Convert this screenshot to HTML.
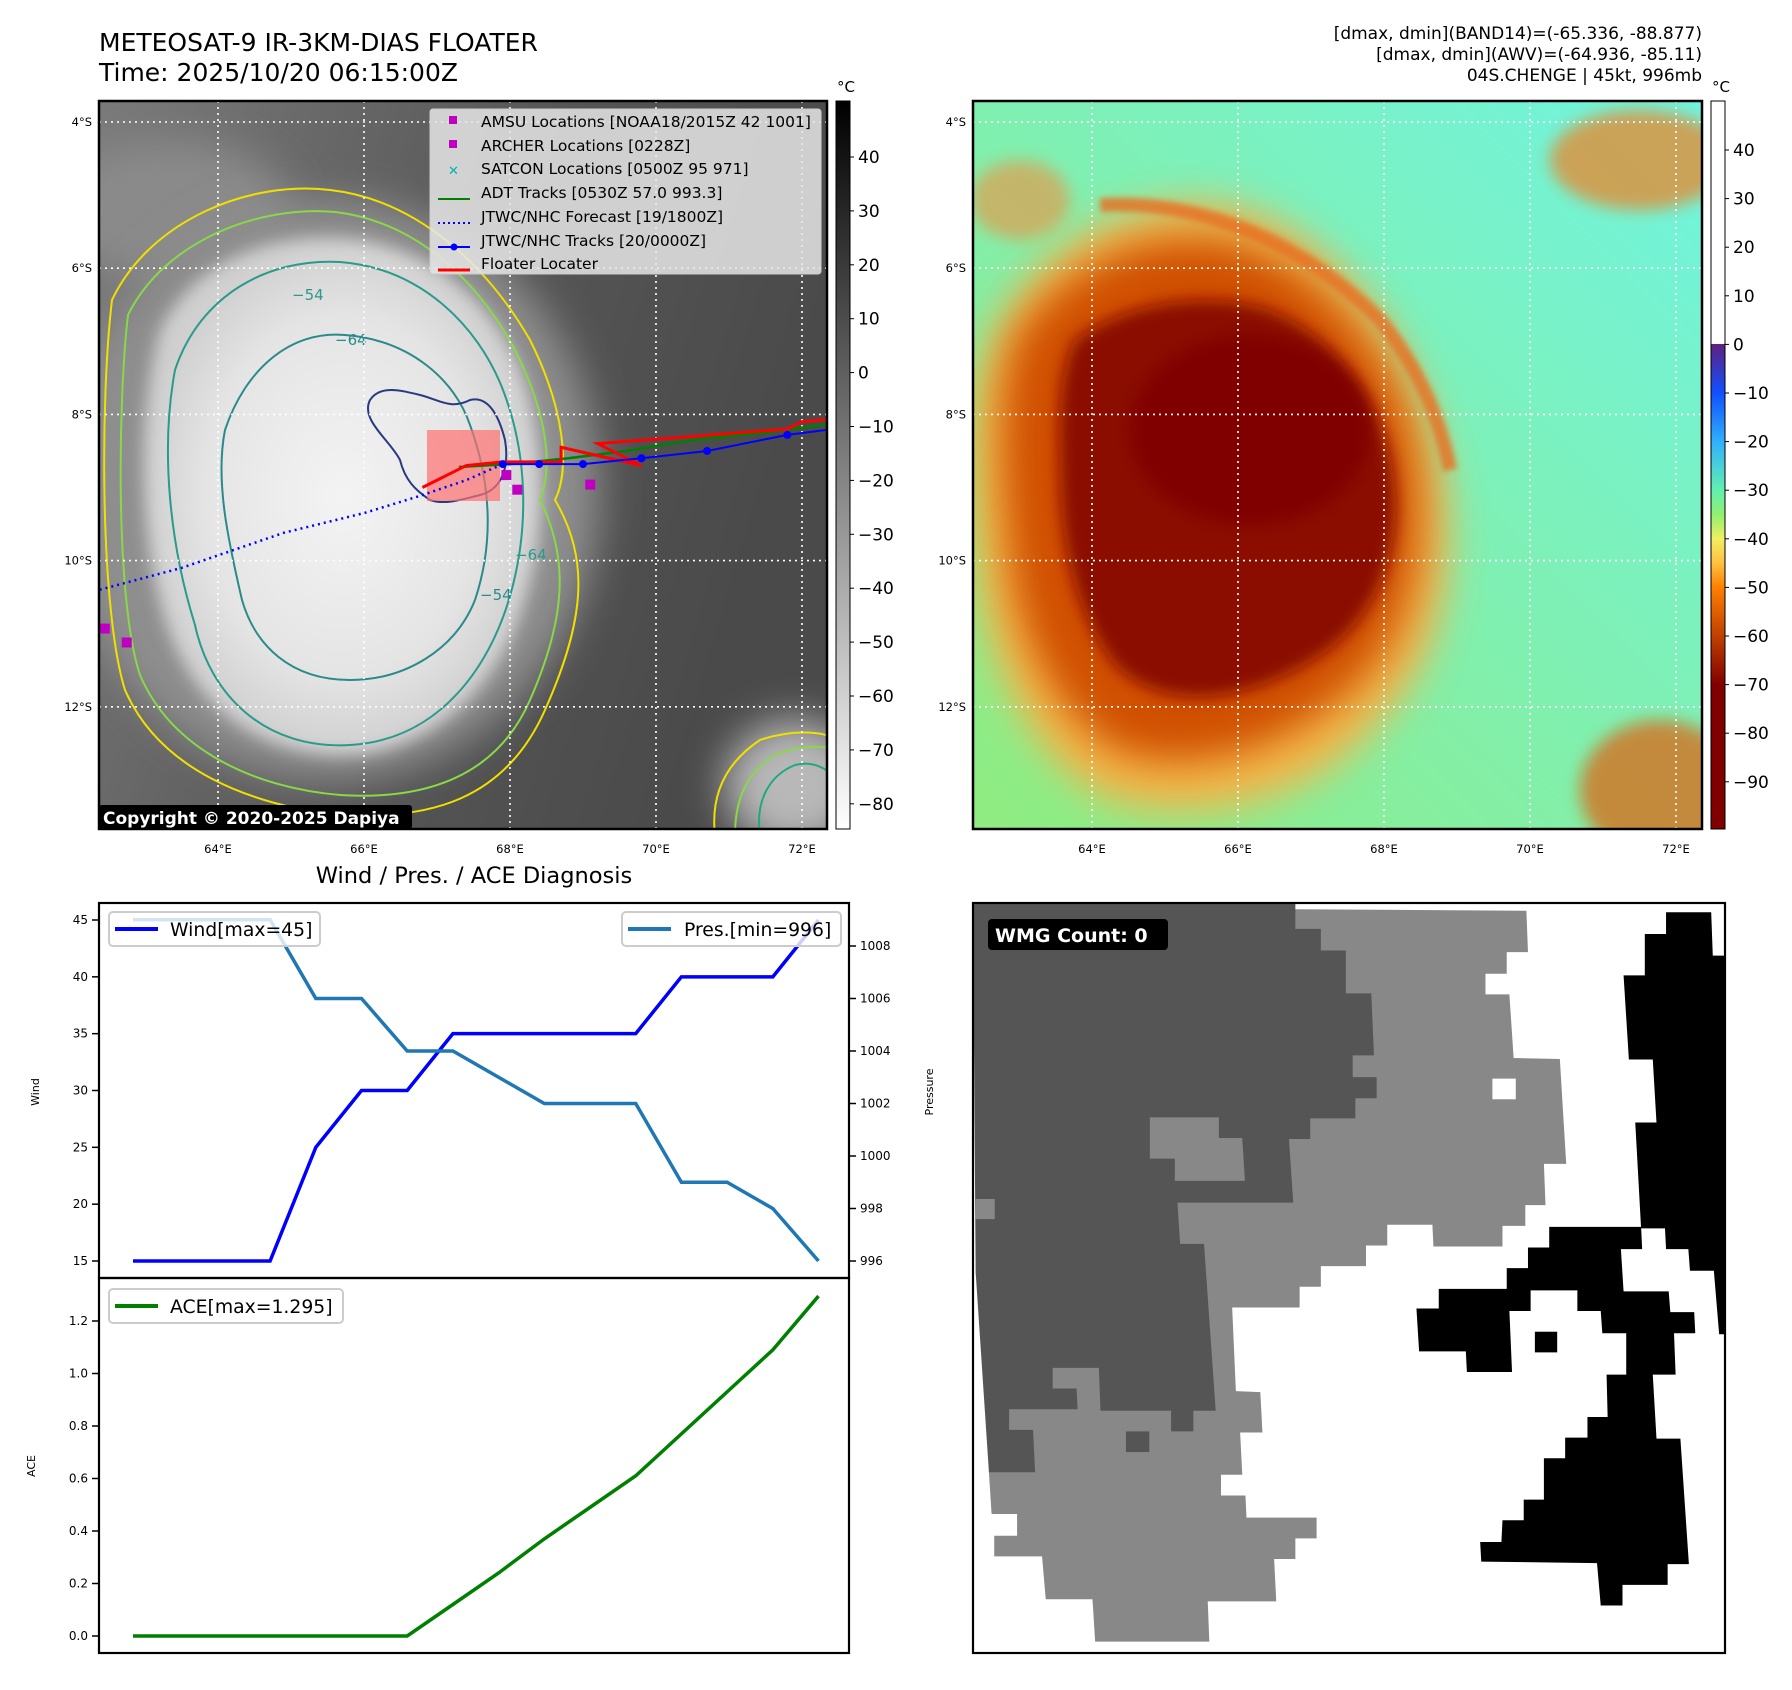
<!DOCTYPE html>
<html><head><meta charset="utf-8">
<style>
html,body{margin:0;padding:0;background:#fff;}
body{width:1792px;height:1690px;position:relative;overflow:hidden;font-family:"Liberation Sans","DejaVu Sans",sans-serif;}
svg{position:absolute;left:0;top:0;}
text{font-family:"DejaVu Sans","Liberation Sans",sans-serif;}
</style></head>
<body>
<svg id="fig" width="1792" height="1690" viewBox="0 0 1792 1690">
<defs>
 <filter id="blur8" x="-50%" y="-50%" width="200%" height="200%"><feGaussianBlur stdDeviation="8"/></filter>
 <filter id="blur20" x="-50%" y="-50%" width="200%" height="200%"><feGaussianBlur stdDeviation="20"/></filter>
 <filter id="blur4" x="-50%" y="-50%" width="200%" height="200%"><feGaussianBlur stdDeviation="3"/></filter>
 <clipPath id="c1"><rect x="99" y="101" width="728" height="728"/></clipPath>
 <clipPath id="c2"><rect x="973" y="101" width="729" height="728"/></clipPath>
 <linearGradient id="gcb" x1="0" y1="1" x2="0" y2="0">
  <stop offset="0" stop-color="#fff"/><stop offset="1" stop-color="#000"/>
 </linearGradient>
 <linearGradient id="ccb" x1="0" y1="1" x2="0" y2="0">
  <stop offset="0" stop-color="#800000"/>
  <stop offset="0.198" stop-color="#800000"/>
  <stop offset="0.265" stop-color="#c04000"/>
  <stop offset="0.332" stop-color="#ff8000"/>
  <stop offset="0.365" stop-color="#ffc040"/>
  <stop offset="0.399" stop-color="#f0f060"/>
  <stop offset="0.432" stop-color="#90f070"/>
  <stop offset="0.466" stop-color="#60f0b0"/>
  <stop offset="0.532" stop-color="#30b0ff"/>
  <stop offset="0.599" stop-color="#1050ff"/>
  <stop offset="0.666" stop-color="#602080"/>
  <stop offset="0.666" stop-color="#ffffff"/>
  <stop offset="1" stop-color="#ffffff"/>
 </linearGradient>
 <radialGradient id="wblob" cx="0.5" cy="0.5" r="0.5">
  <stop offset="0" stop-color="#f4f4f4"/><stop offset="0.7" stop-color="#e4e4e4"/><stop offset="1" stop-color="#cfcfcf"/>
 </radialGradient>
 <linearGradient id="bg1" x1="0" y1="0" x2="1" y2="0.3">
  <stop offset="0" stop-color="#7a7a7a"/><stop offset="0.6" stop-color="#555"/><stop offset="1" stop-color="#4a4a4a"/>
 </linearGradient>
 <linearGradient id="bg2" x1="0" y1="1" x2="1" y2="0">
  <stop offset="0" stop-color="#90ec80"/><stop offset="0.5" stop-color="#80f0b0"/><stop offset="1" stop-color="#70f4e0"/>
 </linearGradient>
</defs>

<text x="99" y="51" font-size="25">METEOSAT-9 IR-3KM-DIAS FLOATER</text>
<text x="99" y="81" font-size="25">Time: 2025/10/20 06:15:00Z</text>
<text x="1702" y="39" font-size="17" text-anchor="end">[dmax, dmin](BAND14)=(-65.336, -88.877)</text>
<text x="1702" y="60" font-size="17" text-anchor="end">[dmax, dmin](AWV)=(-64.936, -85.11)</text>
<text x="1702" y="81" font-size="17" text-anchor="end">04S.CHENGE | 45kt, 996mb</text>

<!-- MAP 1 -->
<g clip-path="url(#c1)">
 <rect x="99" y="101" width="728" height="728" fill="url(#bg1)"/>
 <ellipse cx="170" cy="210" rx="120" ry="70" fill="#8a8a8a" filter="url(#blur20)"/>
 <ellipse cx="795" cy="785" rx="70" ry="65" fill="#b8b8b8" filter="url(#blur20)"/>
 <ellipse cx="330" cy="490" rx="270" ry="290" fill="#8e8e8e" filter="url(#blur20)"/>
 <path d="M160,330 C200,250 290,230 360,240 C450,255 510,320 530,400 C550,480 545,560 510,640 C470,720 400,760 330,755 C250,750 190,700 165,620 C140,540 135,420 160,330 Z" fill="url(#wblob)" filter="url(#blur8)"/>
 <g fill="none" stroke-width="2">
  <path d="M112,300 C150,220 250,180 330,190 C420,200 490,270 530,340 C565,410 570,470 555,500 C590,560 585,620 545,710 C505,800 430,820 340,815 C250,805 160,770 125,690 C100,610 100,400 112,300 Z" stroke="#f0e000"/>
  <path d="M128,315 C165,240 260,205 335,212 C420,222 480,285 515,350 C550,420 552,470 540,500 C570,560 565,620 530,700 C495,780 420,800 340,795 C255,788 172,750 140,675 C115,600 118,400 128,315 Z" stroke="#88d848"/>
  <path d="M175,370 C200,295 268,258 340,262 C420,268 478,325 503,390 C528,455 528,525 513,585 C493,665 440,740 350,745 C265,750 210,695 195,625 C170,545 160,450 175,370 Z" stroke="#2a9a8a"/>
  <path d="M225,430 C245,370 290,330 345,335 C410,340 455,380 470,425 C490,480 495,540 475,600 C455,650 405,680 350,680 C290,680 255,645 242,600 C228,540 215,480 225,430 Z" stroke="#2a8a8a"/>
  <path d="M370,400 C380,385 400,390 420,395 C440,400 450,410 470,400 C490,395 500,420 505,440 C510,470 500,490 480,495 C460,500 445,505 430,500 C415,490 405,480 400,460 C390,440 360,420 370,400 Z" stroke="#2a3a80"/>
  <path d="M715,835 C710,790 730,760 760,740 C790,730 820,730 840,740" stroke="#f0e000"/>
  <path d="M735,835 C735,795 750,770 775,755 C800,745 820,745 840,750" stroke="#88d848"/>
  <path d="M760,835 C755,800 770,775 795,765 C815,760 825,770 835,775" stroke="#20a880"/>
 </g>
 <text x="292" y="300" font-size="15" fill="#2a9a8a">−54</text>
 <text x="335" y="345" font-size="15" fill="#2a8a8a">−64</text>
 <text x="480" y="600" font-size="15" fill="#2a8a8a">−54</text>
 <text x="515" y="560" font-size="15" fill="#2a9a8a">−64</text>
 <g id="grid1" stroke="#fff" stroke-width="1.6" stroke-dasharray="2,4"></g>
 <rect x="430" y="109" width="391" height="165" rx="3" fill="#e6e6e6" fill-opacity="0.85" stroke="#ccc"/>
 <rect x="427" y="430" width="73" height="71" fill="#ff7070" fill-opacity="0.7"/>
 <g id="tracks1"></g>
 <rect x="99" y="805" width="313" height="24" rx="3" fill="#000"/>
 <text x="103" y="824" font-size="17" font-weight="bold" fill="#fff">Copyright © 2020-2025 Dapiya</text>
</g>
<rect x="99" y="101" width="728" height="728" fill="none" stroke="#000" stroke-width="2.5"/>
<g font-size="15.5">
 <rect x="449" y="116" width="8" height="8" fill="#c000c0"/><text x="481" y="127">AMSU Locations [NOAA18/2015Z 42 1001]</text>
 <rect x="449" y="140" width="8" height="8" fill="#c000c0"/><text x="481" y="151">ARCHER Locations [0228Z]</text>
 <text x="448" y="175" fill="#00b0b0" font-size="13" font-weight="bold">✕</text><text x="481" y="174">SATCON Locations [0500Z 95 971]</text>
 <line x1="438" y1="199" x2="470" y2="199" stroke="#008000" stroke-width="2"/><text x="481" y="198">ADT Tracks [0530Z 57.0 993.3]</text>
 <line x1="438" y1="223" x2="470" y2="223" stroke="#0000ff" stroke-width="2" stroke-dasharray="2,3"/><text x="481" y="222">JTWC/NHC Forecast [19/1800Z]</text>
 <line x1="438" y1="247" x2="470" y2="247" stroke="#0000ff" stroke-width="2"/><circle cx="454" cy="247" r="3.5" fill="#0000ff"/><text x="481" y="246">JTWC/NHC Tracks [20/0000Z]</text>
 <line x1="438" y1="270" x2="470" y2="270" stroke="#ff0000" stroke-width="3"/><text x="481" y="269">Floater Locater</text>
</g>
<g id="axes1" font-size="11.5"></g>
<rect x="836" y="101" width="14" height="728" fill="url(#gcb)" stroke="#000" stroke-width="1"/>
<text x="846" y="92" font-size="15" text-anchor="middle">°C</text>
<g id="cb1" font-size="17"></g>

<!-- MAP 2 -->
<g clip-path="url(#c2)">
 <rect x="973" y="101" width="729" height="728" fill="url(#bg2)"/>
 <ellipse cx="1640" cy="160" rx="90" ry="50" fill="#f08020" filter="url(#blur8)" opacity="0.7"/>
 <ellipse cx="1660" cy="790" rx="80" ry="70" fill="#e06010" filter="url(#blur8)" opacity="0.7"/>
 <ellipse cx="1020" cy="200" rx="50" ry="40" fill="#f09040" filter="url(#blur8)" opacity="0.6"/>
 <path d="M990,340 C1040,230 1150,190 1230,205 C1320,225 1400,320 1430,420 C1465,520 1455,650 1380,720 C1320,800 1200,830 1110,800 C1040,770 985,670 975,560 C965,460 965,390 990,340 Z" fill="#ffb040" filter="url(#blur20)" opacity="0.9"/>
 <path d="M1020,330 C1080,250 1170,225 1240,245 C1320,270 1390,350 1410,430 C1430,520 1420,620 1360,680 C1300,740 1210,775 1130,755 C1070,735 1020,650 1010,560 C1000,460 995,380 1020,330 Z" fill="#d05000" filter="url(#blur20)"/>
 <path d="M1075,340 C1130,300 1210,290 1270,310 C1345,340 1390,415 1395,490 C1400,565 1370,630 1305,665 C1235,705 1160,710 1115,665 C1075,615 1060,540 1060,470 C1058,410 1060,370 1075,340 Z" fill="#8a0800" filter="url(#blur8)"/>
 <ellipse cx="1250" cy="430" rx="120" ry="95" fill="#800000" filter="url(#blur8)"/>
 <path d="M1100,205 C1200,200 1300,240 1380,320 C1420,370 1440,420 1450,470" fill="none" stroke="#e87020" stroke-width="14" filter="url(#blur4)" opacity="0.8"/>
 <g id="grid2" stroke="#fff" stroke-width="1.6" stroke-dasharray="2,4"></g>
</g>
<rect x="973" y="101" width="729" height="728" fill="none" stroke="#000" stroke-width="2.5"/>
<g id="axes2" font-size="11.5"></g>
<rect x="1711" y="101" width="14" height="728" fill="url(#ccb)" stroke="#000" stroke-width="1"/>
<text x="1721" y="92" font-size="15" text-anchor="middle">°C</text>
<g id="cb2" font-size="17"></g>

<!-- Diagnosis chart -->
<text x="474" y="883" font-size="22.5" text-anchor="middle">Wind / Pres. / ACE Diagnosis</text>
<g id="chart"></g>
<rect x="99" y="903" width="750" height="375" fill="none" stroke="#000" stroke-width="2.2"/>
<rect x="99" y="1278" width="750" height="375" fill="none" stroke="#000" stroke-width="2.2"/>
<text transform="translate(39,1092) rotate(-90)" font-size="11" text-anchor="middle">Wind</text>
<text transform="translate(933,1092) rotate(-90)" font-size="11" text-anchor="middle">Pressure</text>
<text transform="translate(35,1466) rotate(-90)" font-size="11" text-anchor="middle">ACE</text>
<g>
 <rect x="109" y="912" width="211" height="34" rx="4" fill="#fff" fill-opacity="0.8" stroke="#ccc" stroke-width="2"/>
 <line x1="115" y1="929" x2="158" y2="929" stroke="#0000ff" stroke-width="4"/>
 <text x="170" y="936" font-size="18.8">Wind[max=45]</text>
</g>
<g>
 <rect x="622" y="912" width="219" height="34" rx="4" fill="#fff" fill-opacity="0.8" stroke="#ccc" stroke-width="2"/>
 <line x1="628" y1="929" x2="671" y2="929" stroke="#1f77b4" stroke-width="4"/>
 <text x="684" y="936" font-size="18.8">Pres.[min=996]</text>
</g>
<g>
 <rect x="109" y="1289" width="234" height="34" rx="4" fill="#fff" fill-opacity="0.8" stroke="#ccc" stroke-width="2"/>
 <line x1="115" y1="1306" x2="158" y2="1306" stroke="#008000" stroke-width="4"/>
 <text x="170" y="1313" font-size="18.8">ACE[max=1.295]</text>
</g>

<!-- WMG panel -->
<svg x="973" y="903" width="752" height="750" viewBox="25 45 1416 1452" preserveAspectRatio="none">
 <rect x="25" y="45" width="1416" height="1452" fill="#fff"/>
 <polygon fill="#888" points="632,57 1067,60 1070,140 1030,140 1030,182 990,182 990,222 1035,222 1043,345 1130,347 1142,550 1100,550 1103,630 1065,630 1065,670 1022,670 1022,710 892,710 890,668 805,668 805,708 765,708 765,748 680,748 680,788 640,788 640,828 513,828 520,990 566,992 570,1070 528,1070 532,1152 492,1152 492,1192 538,1192 540,1235 672,1235 672,1275 632,1275 632,1315 592,1315 596,1397 467,1397 470,1475 255,1475 250,1393 162,1393 155,1310 65,1310 65,1270 108,1270 108,1228 60,1228 55,1148 55,45"/>
 <rect x="1003" y="385" width="44" height="40" fill="#fff"/>
 <polygon fill="#555" points="25,45 632,45 632,95 680,95 680,137 727,137 727,220 775,220 780,340 740,340 740,382 785,382 785,423 745,423 745,462 660,462 660,502 620,502 628,625 410,625 415,705 460,705 482,1028 440,1028 440,1068 398,1068 398,1028 265,1028 262,945 175,945 175,985 220,985 222,1025 93,1025 93,1065 138,1065 142,1147 55,1147 30,760"/>
 <polygon fill="#888" points="358,460 488,460 488,500 532,500 537,583 405,583 405,540 358,540"/>
 <rect x="30" y="618" width="36" height="39" fill="#888"/>
 <rect x="313" y="1068" width="44" height="40" fill="#555"/>
 <polygon fill="#000" points="1330,63 1415,63 1418,147 1441,147 1441,880 1430,880 1420,757 1375,757 1372,715 1330,715 1328,675 1283,675 1272,470 1312,470 1305,348 1260,348 1250,185 1290,185 1290,105 1330,105"/>
 <polygon fill="#000" points="1110,672 1283,672 1285,715 1245,715 1250,797 1335,797 1338,837 1383,837 1385,878 1345,878 1348,958 1305,958 1312,1082 1357,1082 1373,1325 1333,1325 1333,1365 1248,1365 1248,1405 1207,1405 1200,1323 982,1320 980,1282 1020,1282 1022,1240 1062,1240 1062,1200 1100,1200 1100,1120 1140,1120 1140,1080 1182,1080 1182,1040 1220,1040 1218,958 1255,958 1255,878 1210,878 1207,835 1163,835 1163,795 1075,795 1075,835 1035,835 1040,953 955,953 953,913 865,913 860,830 902,830 902,792 1030,792 1030,752 1070,752 1070,712 1110,712"/>
 <rect x="1083" y="875" width="42" height="40" fill="#000"/>
</svg>
<rect x="973" y="903" width="752" height="750" fill="none" stroke="#000" stroke-width="2.2"/>
<rect x="988" y="919" width="180" height="31" rx="4" fill="#000"/>
<text x="995" y="942" font-size="19" font-weight="bold" fill="#fff">WMG Count: 0</text>
</svg>

<script>
const timeIndex = [0,1,2,3,4,5,6,7,8,9,10,11,12,13,14,15];
const windValues = [15,15,15,15,25,30,30,35,35,35,35,35,40,40,40,45];
const pressureValues = [1009,1009,1009,1009,1006,1006,1004,1004,1003,1002,1002,1002,999,999,998,996];
const aceValues = [0,0,0,0,0,0,0,0.12,0.24,0.37,0.49,0.61,0.77,0.93,1.09,1.295];
const windTicks = [15,20,25,30,35,40,45];
const pressureTicks = [996,998,1000,1002,1004,1006,1008];
const aceTicks = [0.0,0.2,0.4,0.6,0.8,1.0,1.2];
const jtwcLon = [67.9,68.4,69.0,69.8,70.7,71.8,72.6];
const jtwcLat = [8.68,8.68,8.68,8.6,8.5,8.28,8.18];
const forecastLon = [62.3,63.5,64.9,66.0,66.75,67.4,67.9];
const forecastLat = [10.42,10.1,9.62,9.35,9.12,8.9,8.68];
const adtLon = [67.3,68.0,68.8,69.6,70.5,71.5,72.6];
const adtLat = [8.72,8.68,8.6,8.5,8.35,8.25,8.1];
const floaterLon = [66.8,67.4,67.9,68.7,68.7,69.8,69.2,70.5,71.8,72.0,72.6];
const floaterLat = [9.0,8.7,8.65,8.65,8.45,8.7,8.4,8.3,8.2,8.1,8.05];
const amsuLon = [67.95,68.1,69.1,62.45,62.75];
const amsuLat = [8.83,9.03,8.96,10.93,11.12];
const lonTicks = [64,66,68,70,72];
const latTicks = [4,6,8,10,12];
const cb1Ticks = [40,30,20,10,0,-10,-20,-30,-40,-50,-60,-70,-80];
const cb2Ticks = [40,30,20,10,0,-10,-20,-30,-40,-50,-60,-70,-80,-90];

const NS='http://www.w3.org/2000/svg';
function mk(tag, attrs, parent){const e=document.createElementNS(NS,tag);for(const k in attrs)e.setAttribute(k,attrs[k]);parent.appendChild(e);return e;}

const xC = i => 133 + i*45.7;
const yW = v => 920 + (45-v)*(1261-920)/30;
const yP = v => 1261 - (v-996)*(1261-946)/12;
const yA = v => 1636 - v*(1636-1321)/1.2;

const chart=document.getElementById('chart');
windTicks.forEach(t=>{
  const l=mk('line',{x1:92,x2:99,y1:yW(t),y2:yW(t),stroke:'#000','stroke-width':1.5},chart);
  
  
  const tx=mk('text',{x:88,y:yW(t)+4,'font-size':12,'text-anchor':'end'},chart);tx.textContent=t;
  
  
});
pressureTicks.forEach(t=>{
  const l=mk('line',{x1:849,x2:856,y1:yP(t),y2:yP(t),stroke:'#000','stroke-width':1.5},chart);
  
  
  const tx=mk('text',{x:860,y:yP(t)+4,'font-size':12},chart);tx.textContent=t;
  
  
});
aceTicks.forEach(t=>{
  const l=mk('line',{x1:92,x2:99,y1:yA(t),y2:yA(t),stroke:'#000','stroke-width':1.5},chart);
  
  
  const tx=mk('text',{x:88,y:yA(t)+4,'font-size':12,'text-anchor':'end'},chart);tx.textContent=t.toFixed(1);
  
  
});
const wl=mk('polyline',{points:timeIndex.map(i=>xC(i)+','+yW(windValues[i])).join(' '),fill:'none',stroke:'#0000ff','stroke-width':3.5},chart);


const pl=mk('polyline',{points:timeIndex.map(i=>xC(i)+','+yP(pressureValues[i])).join(' '),fill:'none',stroke:'#1f77b4','stroke-width':3.5},chart);


const al=mk('polyline',{points:timeIndex.map(i=>xC(i)+','+yA(aceValues[i])).join(' '),fill:'none',stroke:'#008000','stroke-width':3.5},chart);



const lonX = (l,off) => 99 + off + (l-62.37)*73;
const latY = l => 122 + (l-4)*73.1;
function grid(id,off,x0,x1){
  const g=document.getElementById(id);
  lonTicks.forEach(t=>{const l=mk('line',{x1:lonX(t,off),x2:lonX(t,off),y1:101,y2:829},g);
    
    });
  latTicks.forEach(t=>{const l=mk('line',{x1:x0,x2:x1,y1:latY(t),y2:latY(t)},g);
    
    });
}
grid('grid1',0,99,827); grid('grid2',874,973,1702);
function axes(id,off,xl){
  const g=document.getElementById(id);
  lonTicks.forEach(t=>{const tx=mk('text',{x:lonX(t,off),y:853,'text-anchor':'middle'},g);tx.textContent=t+'°E';
    
    });
  latTicks.forEach(t=>{const tx=mk('text',{x:xl,y:latY(t)+4,'text-anchor':'end'},g);tx.textContent=t+'°S';
    
    });
}
axes('axes1',0,92); axes('axes2',874,966);
const tr=document.getElementById('tracks1');
const ptsOf=(lo,la)=>lo.map((v,i)=>lonX(v,0)+','+latY(la[i])).join(' ');
const fc=mk('polyline',{points:ptsOf(forecastLon,forecastLat),fill:'none',stroke:'#0000ff','stroke-width':2.5,'stroke-dasharray':'2,4'},tr);


const ad=mk('polyline',{points:ptsOf(adtLon,adtLat),fill:'none',stroke:'#008000','stroke-width':2.5},tr);


const fl=mk('polyline',{points:ptsOf(floaterLon,floaterLat),fill:'none',stroke:'#ff0000','stroke-width':3},tr);


const jt=mk('polyline',{points:ptsOf(jtwcLon,jtwcLat),fill:'none',stroke:'#0000ff','stroke-width':2},tr);


jtwcLon.slice(0,6).forEach((v,i)=>{const c=mk('circle',{cx:lonX(v,0),cy:latY(jtwcLat[i]),r:4,fill:'#0000ff'},tr);
  
  });
amsuLon.forEach((v,i)=>{const r=mk('rect',{x:lonX(v,0)-5,y:latY(amsuLat[i])-5,width:10,height:10,fill:'#c000c0'},tr);
  
  });

function cb(id,ticks,x,y40,step){
  const g=document.getElementById(id);
  ticks.forEach(t=>{const y=y40+(40-t)/10*step;
    mk('line',{x1:x-6,x2:x-2,y1:y,y2:y,stroke:'#000'},g);
    const tx=mk('text',{x:x+2,y:y+6},g);tx.textContent=(t<0?'−'+(-t):t);
    
    });
}
cb('cb1',cb1Ticks,856,157,53.9);
cb('cb2',cb2Ticks,1731,150,48.6);
</script>
</body></html>
